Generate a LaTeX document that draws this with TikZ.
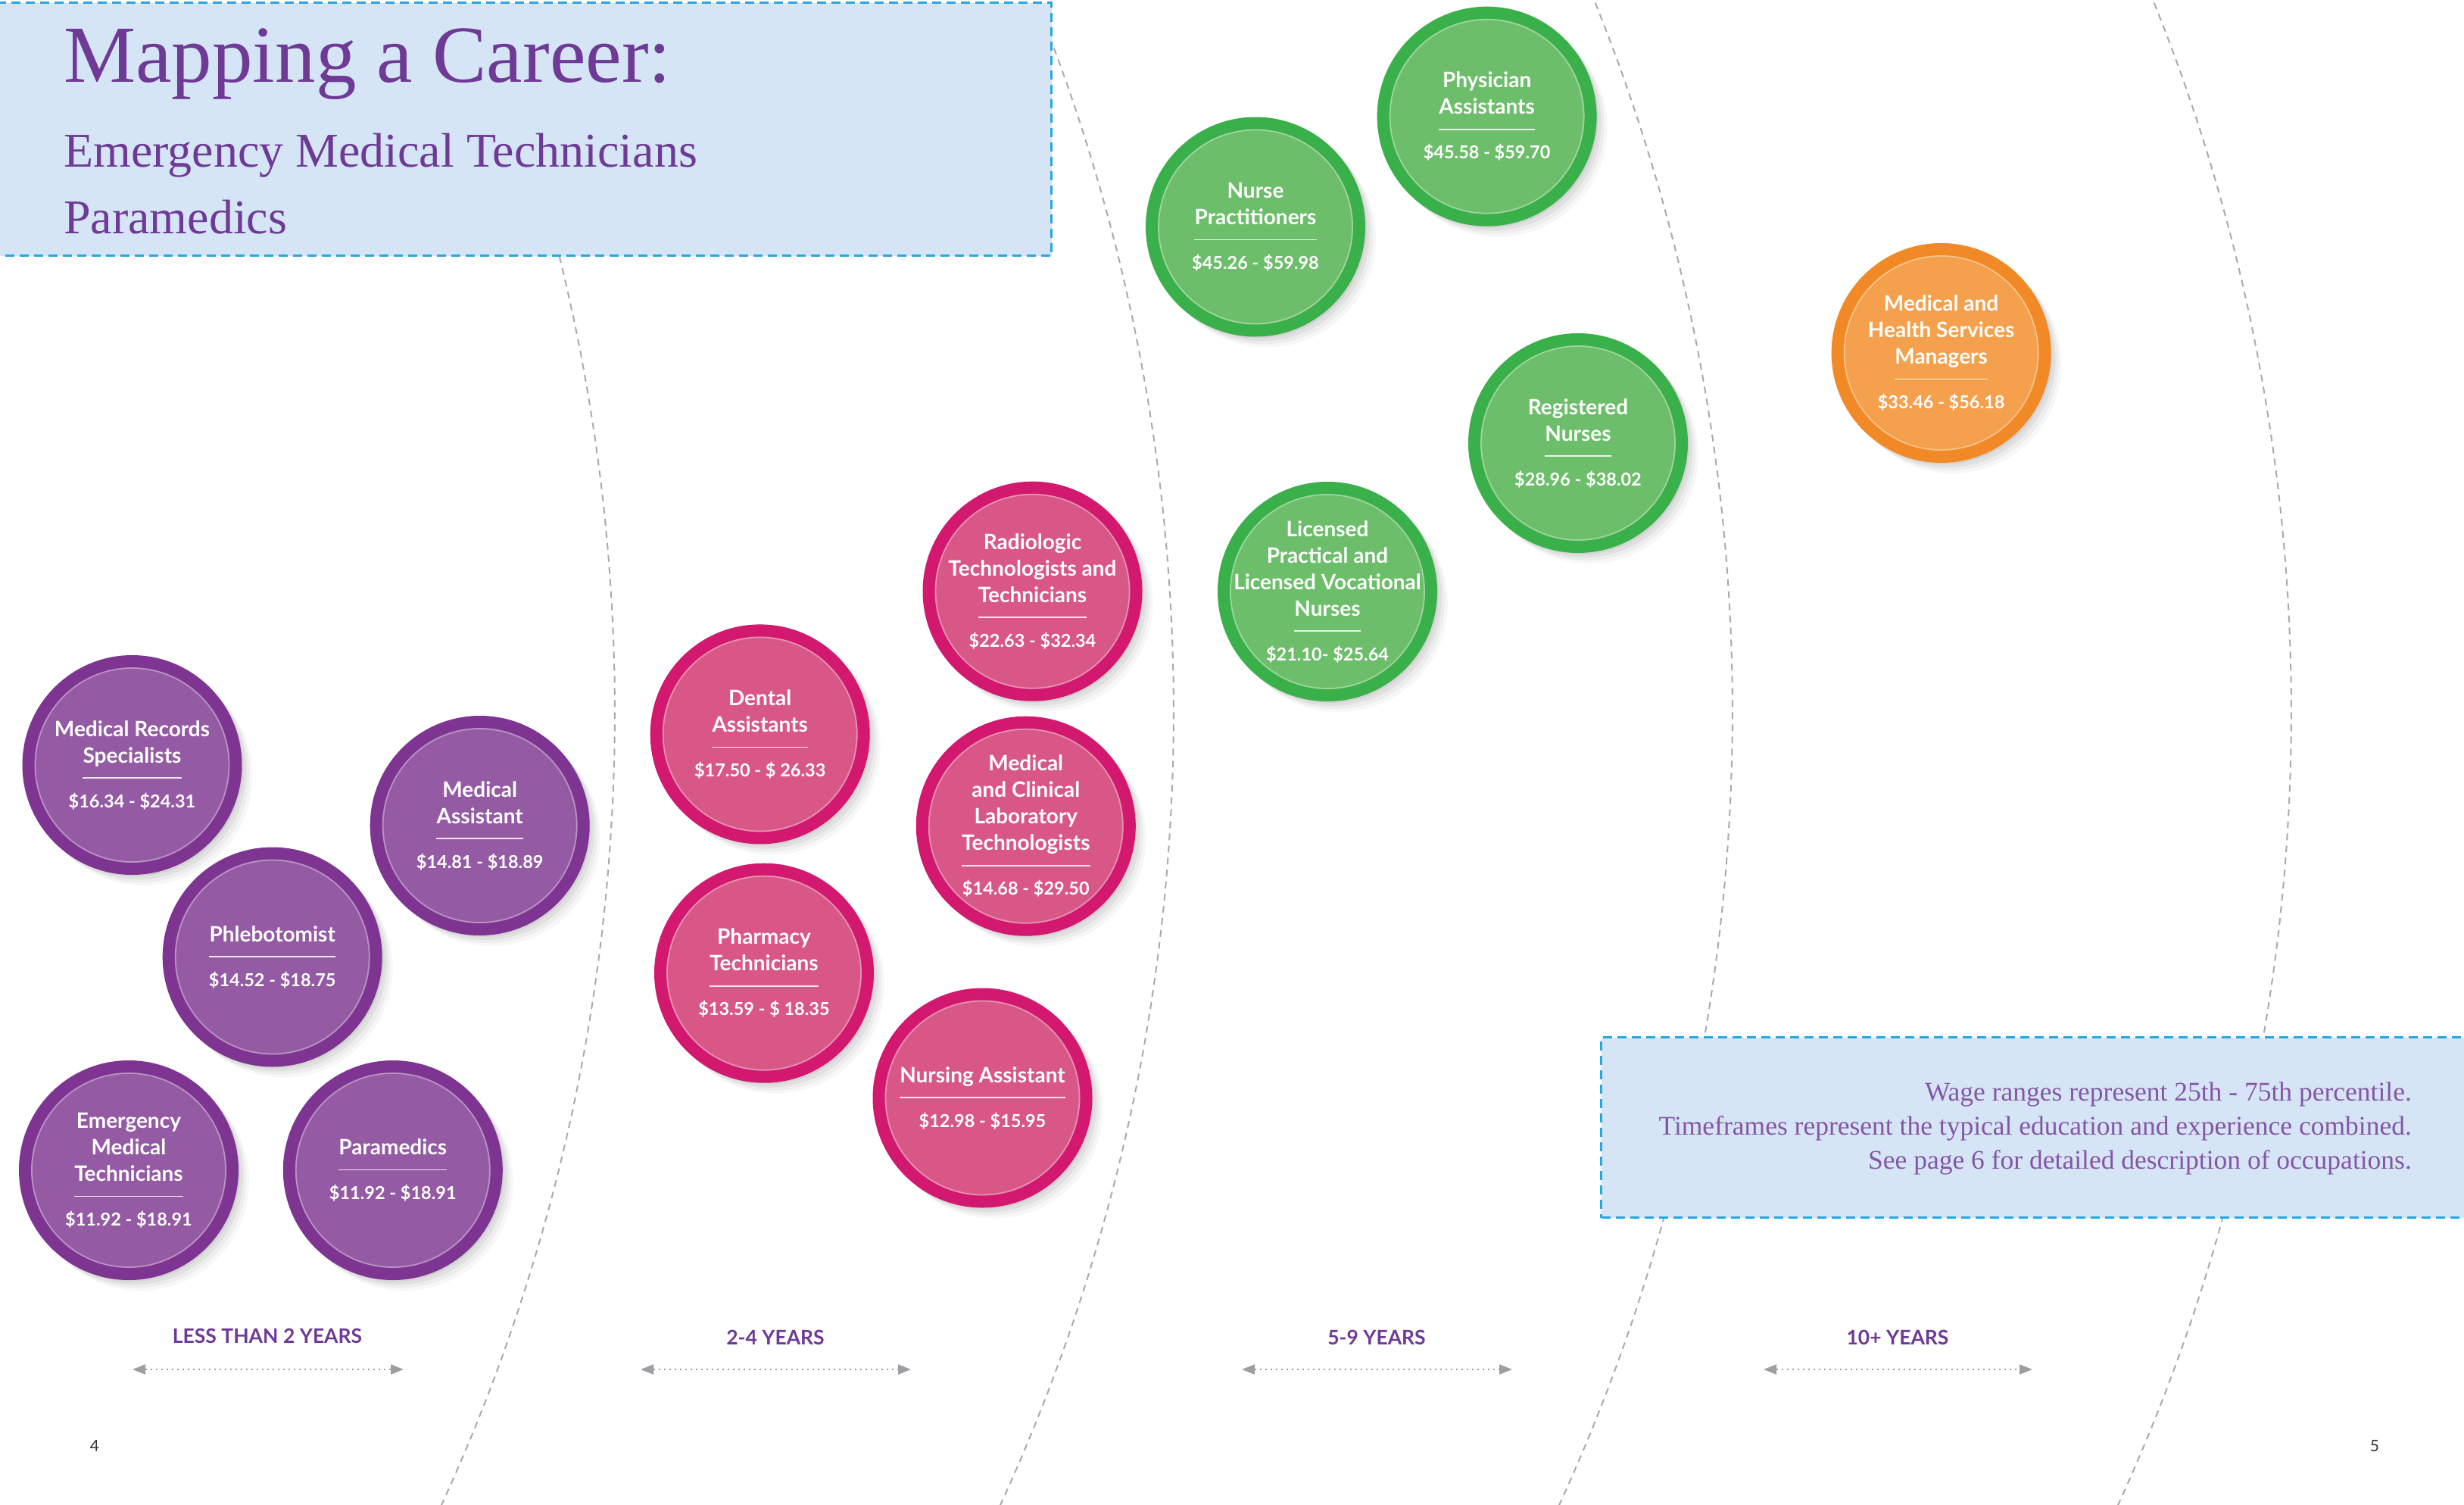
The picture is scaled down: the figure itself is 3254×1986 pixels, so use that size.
\documentclass[tikz,border=0pt]{standalone}
\usepackage{fontspec}
\setmainfont{Liberation Serif}
\newfontfamily\jobfont{Lato}
\usetikzlibrary{arrows.meta}
\definecolor{titlepurple}{HTML}{6E3A95}
\definecolor{infopurple}{HTML}{8556A6}
\definecolor{boxblue}{HTML}{D5E5F6}
\definecolor{boxedge}{HTML}{25A7E0}
\definecolor{arcgray}{HTML}{A8AAAD}
\definecolor{arrowgray}{HTML}{9C9EA1}
\definecolor{purplering}{HTML}{7E3592}
\definecolor{purplefill}{HTML}{955AA4}
\definecolor{pinkring}{HTML}{D2186F}
\definecolor{pinkfill}{HTML}{D95787}
\definecolor{greenring}{HTML}{3AB04A}
\definecolor{greenfill}{HTML}{6CBE6A}
\definecolor{orangering}{HTML}{F18A26}
\definecolor{orangefill}{HTML}{F5A04C}
\tikzset{
  jobcircle/.style={circle, line width=16pt, minimum size=274pt, inner sep=0pt},
  jobtxt/.style={font=\jobfont\bfseries\fontsize{28}{35}\selectfont, text=white, inner sep=0pt},
  wagetxt/.style={font=\jobfont\bfseries\fontsize{23.5}{30}\selectfont, text=white, inner sep=0pt},
  arcline/.style={draw=arcgray, line width=2pt, dash pattern=on 9pt off 7pt},
  infobox/.style={draw=boxedge, fill=boxblue, line width=3pt, dash pattern=on 12pt off 7pt, inner sep=0pt},
  yrlabel/.style={font=\jobfont\bfseries\fontsize{26.5}{30}\selectfont, text=titlepurple, inner sep=0pt, anchor=base},
  yrarrow/.style={{Triangle[length=17pt,width=13pt]}-{Triangle[length=17pt,width=13pt]}, draw=arrowgray, line width=2pt, dash pattern=on 2pt off 5pt},
  infotxt/.style={font=\fontsize{35.5}{40}\selectfont, text=infopurple, inner sep=0pt, anchor=base east},
  pagenum/.style={font=\jobfont\fontsize{21}{24}\selectfont, text=black!80, inner sep=0pt, anchor=base},
}
% #1 name, #2 x, #3 y, #4 scheme, #5 number of title lines, #6 title lines, #7 wage
\newcommand\job[7]{%
  \foreach \d/\o in {3/0.06, 7/0.05, 11/0.04, 15/0.03}
    \fill[black, opacity=\o] ({#2+\d},{#3+\d}) circle (144);
  \node[jobcircle, draw=#4ring, fill=#4fill] (#1) at (#2,#3) {};
  \draw[white, opacity=0.35, line width=1.8pt] (#1.center) circle (128);
  \pgfmathsetmacro\firsty{#3 - (81+35*(#5-1))/2 + 20}
  \foreach \t [count=\i] in {#6} {
    \node[jobtxt, anchor=base] (#1-\i) at (#2, {\firsty + 35*(\i-1)}) {\t};
  }
  \draw[white, opacity=0.85, line width=1.6pt] ([yshift=-20pt]#1-#5.base west) -- ([yshift=-20pt]#1-#5.base east);
  \node[wagetxt, anchor=base] (#1-w) at (#2, {\firsty + 35*(#5-1) + 59}) {#7};
}
\begin{document}
\begin{tikzpicture}[x=1pt, y=-1pt]
\useasboundingbox (0,0) rectangle (3254,1986);
\fill[white] (0,0) rectangle (3254,1986);
% dashed boundary arcs
\foreach \k in {0,1,2,3}
  \draw[arcline] plot[domain=-23:26, samples=90] ({-1698 + 738*\k + 2510*cos(\x)}, {940 + 2510*sin(\x)});
% title box
\node[infobox, minimum width=1420pt, minimum height=334pt, anchor=north east] (titlebox) at (1390,2) {};
\node[font=\fontsize{107}{110}\selectfont, text=titlepurple, inner sep=0pt, anchor=base west] (title) at (84,108) {Mapping a Career:};
\node[font=\fontsize{64}{70}\selectfont, text=titlepurple, inner sep=0pt, anchor=base west] (sub1) at (84,220) {Emergency Medical Technicians};
\node[font=\fontsize{64}{70}\selectfont, text=titlepurple, inner sep=0pt, anchor=base west] (sub2) at (84,308) {Paramedics};
% info box
\node[infobox, minimum width=1180pt, minimum height=238pt, anchor=north west] (notebox) at (2113,1368) {};
\node[infotxt] (note1) at (3185,1453) {Wage ranges represent 25th - 75th percentile.};
\node[infotxt] (note2) at (3185,1498) {Timeframes represent the typical education and experience combined.};
\node[infotxt] (note3) at (3185,1543) {See page 6 for detailed description of occupations.};
% circles
\job{mrs}{174.5}{1010}{purple}{2}{Medical Records,Specialists}{\$16.34 - \$24.31}
\job{ma}{633.7}{1090}{purple}{2}{Medical,Assistant}{\$14.81 - \$18.89}
\job{phl}{359.7}{1263.5}{purple}{1}{Phlebotomist}{\$14.52 - \$18.75}
\job{emt}{170}{1545}{purple}{3}{Emergency,Medical,Technicians}{\$11.92 - \$18.91}
\job{par}{518.8}{1545}{purple}{1}{Paramedics}{\$11.92 - \$18.91}
\job{den}{1003.7}{969.4}{pink}{2}{Dental,Assistants}{\$17.50 - \$ 26.33}
\job{pha}{1009}{1284.7}{pink}{2}{Pharmacy,Technicians}{\$13.59 - \$ 18.35}
\job{rad}{1363.5}{780.7}{pink}{3}{Radiologic,Technologists and,Technicians}{\$22.63 - \$32.34}
\job{mcl}{1354.8}{1090.7}{pink}{4}{Medical,and Clinical,Laboratory,Technologists}{\$14.68 - \$29.50}
\job{nur}{1297.5}{1449.5}{pink}{1}{Nursing Assistant}{\$12.98 - \$15.95}
\job{np}{1658}{299.5}{green}{2}{Nurse,Practitioners}{\$45.26 - \$59.98}
\job{pa}{1963.6}{153.7}{green}{2}{Physician,Assistants}{\$45.58 - \$59.70}
\job{rn}{2084}{585}{green}{2}{Registered,Nurses}{\$28.96 - \$38.02}
\job{lpn}{1753}{781}{green}{4}{Licensed,Practical and,Licensed Vocational,Nurses}{\$21.10- \$25.64}
\job{mhs}{2563.6}{466}{orange}{3}{Medical and,Health Services,Managers}{\$33.46 - \$56.18}
% timeline labels
\node[yrlabel] (yr1) at (353,1773) {LESS THAN 2 YEARS};
\node[yrlabel] (yr2) at (1024,1775) {2-4 YEARS};
\node[yrlabel] (yr3) at (1818,1775) {5-9 YEARS};
\node[yrlabel] (yr4) at (2506,1775) {10+ YEARS};
\coordinate (a1l) at (175,1808); \coordinate (a1r) at (533,1808);
\coordinate (a2l) at (846,1808); \coordinate (a2r) at (1203,1808);
\coordinate (a3l) at (1640,1808); \coordinate (a3r) at (1997,1808);
\coordinate (a4l) at (2329,1808); \coordinate (a4r) at (2684,1808);
\draw[yrarrow] (a1l) -- (a1r);
\draw[yrarrow] (a2l) -- (a2r);
\draw[yrarrow] (a3l) -- (a3r);
\draw[yrarrow] (a4l) -- (a4r);
% page numbers
\node[pagenum] (p4) at (125,1916) {4};
\node[pagenum] (p5) at (3136,1916) {5};
\end{tikzpicture}
\end{document}
